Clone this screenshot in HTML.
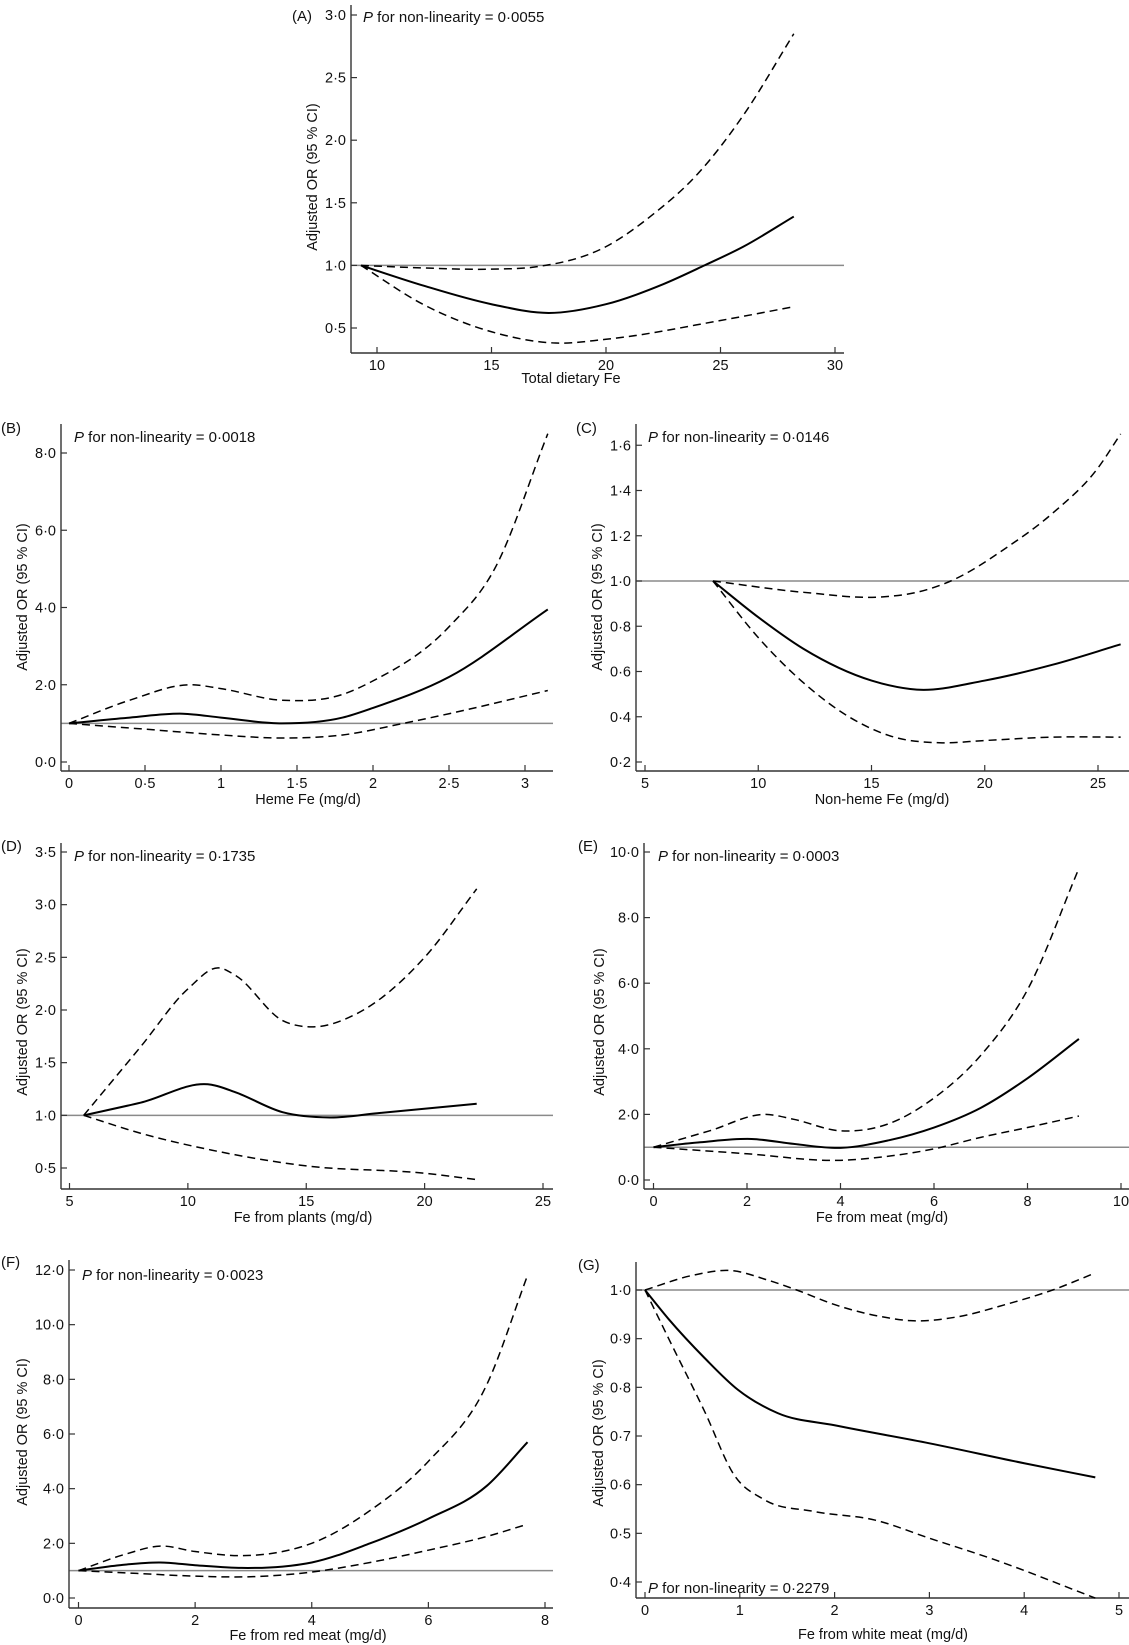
<!DOCTYPE html>
<html><head><meta charset="utf-8"><style>
html,body{margin:0;padding:0;background:#fff;}
svg{display:block;font-family:"Liberation Sans",Arial,sans-serif;}
</style></head><body>
<svg id="fig" width="1129" height="1645" viewBox="0 0 1129 1645" xmlns="http://www.w3.org/2000/svg"></svg>
<script>
// ---------- Panel A: Total dietary Fe ----------
const aX = [9.3, 12, 15, 17.5, 20, 22.5, 24.3, 26, 28.2];
const aFit = [1.0, 0.84, 0.69, 0.62, 0.69, 0.85, 1.0, 1.15, 1.39];
const aUpX = [9.3, 12, 15, 17, 20, 22, 24, 26, 28.2];
const aUp = [1.0, 0.98, 0.97, 0.99, 1.15, 1.4, 1.73, 2.2, 2.85];
const aLoX = [9.3, 12, 15, 17.8, 20, 25, 28.2];
const aLo = [1.0, 0.69, 0.47, 0.38, 0.41, 0.56, 0.67];
const aXTicks = [10, 15, 20, 25, 30];
const aYTicks = [0.5, 1.0, 1.5, 2.0, 2.5, 3.0];
const aYLabels = ["0·5","1·0","1·5","2·0","2·5","3·0"];
// ---------- Panel B: Heme Fe ----------
const bX = [0, 0.4, 0.75, 1.0, 1.4, 1.8, 2.0, 2.5, 3.15];
const bFit = [1.0, 1.15, 1.25, 1.15, 1.0, 1.15, 1.4, 2.2, 3.95];
const bUpX = [0, 0.4, 0.8, 1.0, 1.4, 1.8, 2.0, 2.5, 2.8, 3.15];
const bUp = [1.0, 1.6, 2.0, 1.9, 1.6, 1.75, 2.1, 3.5, 5.0, 8.5];
const bLoX = [0, 0.5, 1.0, 1.4, 1.8, 2.2, 2.5, 3.15];
const bLo = [1.0, 0.85, 0.7, 0.62, 0.7, 1.0, 1.25, 1.85];
const bXTicks = [0, 0.5, 1, 1.5, 2, 2.5, 3];
const bXLabels = ["0","0·5","1","1·5","2","2·5","3"];
const bYTicks = [0, 2, 4, 6, 8];
const bYLabels = ["0·0","2·0","4·0","6·0","8·0"];
// ---------- Panel C: Non-heme Fe ----------
const cX = [8, 10, 12, 15, 17, 20, 23, 26];
const cFit = [1.0, 0.84, 0.70, 0.56, 0.52, 0.56, 0.63, 0.72];
const cUpX = [8, 12, 15.5, 17, 18.5, 21, 23, 25, 26];
const cUp = [1.0, 0.95, 0.93, 0.95, 1.0, 1.15, 1.3, 1.5, 1.65];
const cLoX = [8, 10, 12, 14, 16, 18, 20, 23, 26];
const cLo = [1.0, 0.75, 0.55, 0.40, 0.31, 0.285, 0.295, 0.31, 0.31];
const cXTicks = [5, 10, 15, 20, 25];
const cYTicks = [0.2, 0.4, 0.6, 0.8, 1.0, 1.2, 1.4, 1.6];
const cYLabels = ["0·2","0·4","0·6","0·8","1·0","1·2","1·4","1·6"];
// ---------- Panel D: Fe from plants ----------
const dX = [5.6, 8, 11, 12, 14, 16, 18, 22.2];
const dFit = [1.0, 1.12, 1.29, 1.22, 1.03, 0.98, 1.02, 1.11];
const dUpX = [5.6, 8, 10, 11.3, 12, 14, 15.3, 17, 20, 22.2];
const dUp = [1.0, 1.65, 2.2, 2.4, 2.33, 1.9, 1.84, 1.95, 2.5, 3.15];
const dLoX = [5.6, 8, 11, 15, 20, 22.2];
const dLo = [1.0, 0.83, 0.67, 0.52, 0.45, 0.39];
const dXTicks = [5, 10, 15, 20, 25];
const dYTicks = [0.5, 1.0, 1.5, 2.0, 2.5, 3.0, 3.5];
const dYLabels = ["0·5","1·0","1·5","2·0","2·5","3·0","3·5"];
// ---------- Panel E: Fe from meat ----------
const eX = [0, 1, 2.1, 3, 4, 5, 6, 7, 8, 9.1];
const eFit = [1.0, 1.15, 1.25, 1.1, 0.98, 1.2, 1.6, 2.2, 3.1, 4.3];
const eUpX = [0, 1.2, 2.4, 3, 4, 5, 6, 7, 8, 9.1];
const eUp = [1.0, 1.5, 2.0, 1.85, 1.5, 1.7, 2.5, 3.8, 5.8, 9.5];
const eLoX = [0, 2, 4, 5, 6, 7, 8, 9.1];
const eLo = [1.0, 0.8, 0.6, 0.72, 0.95, 1.3, 1.6, 1.95];
const eXTicks = [0, 2, 4, 6, 8, 10];
const eYTicks = [0, 2, 4, 6, 8, 10];
const eYLabels = ["0·0","2·0","4·0","6·0","8·0","10·0"];
// ---------- Panel F: Fe from red meat ----------
const fX = [0, 0.7, 1.4, 2.0, 2.8, 3.5, 4, 5, 6, 7, 7.7];
const fFit = [1.0, 1.2, 1.3, 1.2, 1.1, 1.15, 1.3, 2.0, 2.9, 4.1, 5.7];
const fUpX = [0, 0.8, 1.4, 2.0, 2.8, 3.5, 4, 5, 6, 7, 7.7];
const fUp = [1.0, 1.6, 1.9, 1.7, 1.55, 1.7, 2.0, 3.2, 5.0, 7.8, 11.8];
const fLoX = [0, 1, 2, 3, 4, 5, 6, 7, 7.7];
const fLo = [1.0, 0.9, 0.8, 0.78, 0.95, 1.3, 1.75, 2.25, 2.7];
const fXTicks = [0, 2, 4, 6, 8];
const fYTicks = [0, 2, 4, 6, 8, 10, 12];
const fYLabels = ["0·0","2·0","4·0","6·0","8·0","10·0","12·0"];
// ---------- Panel G: Fe from white meat ----------
const gX = [0, 0.25, 0.63, 0.98, 1.4, 2.0, 3.0, 4.0, 4.75];
const gFit = [1.0, 0.94, 0.86, 0.795, 0.747, 0.722, 0.685, 0.644, 0.615];
const gUpX = [0, 0.5, 0.9, 1.3, 1.6, 2.0, 2.5, 2.8, 3.3, 3.8, 4.3, 4.75];
const gUp = [1.0, 1.03, 1.04, 1.02, 1.0, 0.97, 0.945, 0.937, 0.945, 0.97, 1.0, 1.035];
const gLoX = [0, 0.25, 0.63, 0.94, 1.25, 1.78, 2.43, 3.0, 3.7, 4.75];
const gLo = [1.0, 0.9, 0.75, 0.62, 0.57, 0.545, 0.527, 0.49, 0.445, 0.367];
const gXTicks = [0, 1, 2, 3, 4, 5];
const gYTicks = [0.4, 0.5, 0.6, 0.7, 0.8, 0.9, 1.0];
const gYLabels = ["0·4","0·5","0·6","0·7","0·8","0·9","1·0"];

const NS = "http://www.w3.org/2000/svg";
const svg = document.getElementById("fig");
function mk(tag, attrs, parent){ const e=document.createElementNS(NS,tag); for(const k in attrs) e.setAttribute(k,attrs[k]); (parent||svg).appendChild(e); return e; }
function smooth(pts){
  const n=pts.length, m=[];
  for(let i=0;i<n;i++){
    if(i===0) m.push((pts[1][1]-pts[0][1])/(pts[1][0]-pts[0][0]));
    else if(i===n-1) m.push((pts[n-1][1]-pts[n-2][1])/(pts[n-1][0]-pts[n-2][0]));
    else {
      const s0=(pts[i][1]-pts[i-1][1])/(pts[i][0]-pts[i-1][0]);
      const s1=(pts[i+1][1]-pts[i][1])/(pts[i+1][0]-pts[i][0]);
      const h0=pts[i][0]-pts[i-1][0], h1=pts[i+1][0]-pts[i][0];
      m.push((s0*h1+s1*h0)/(h0+h1));
    }
  }
  let d="M"+pts[0][0].toFixed(2)+","+pts[0][1].toFixed(2);
  for(let i=0;i<n-1;i++){
    const h=(pts[i+1][0]-pts[i][0])/3;
    d+=" C"+(pts[i][0]+h).toFixed(2)+","+(pts[i][1]+m[i]*h).toFixed(2)+" "+(pts[i+1][0]-h).toFixed(2)+","+(pts[i+1][1]-m[i+1]*h).toFixed(2)+" "+pts[i+1][0].toFixed(2)+","+pts[i+1][1].toFixed(2);
  }
  return d;
}
function panel(cfg){
  const g=mk("g",{});
  
  
  const sx=v=>cfg.xp0+(v-cfg.xv0)*(cfg.xp1-cfg.xp0)/(cfg.xv1-cfg.xv0);
  const sy=v=>cfg.yp0+(v-cfg.yv0)*(cfg.yp1-cfg.yp0)/(cfg.yv1-cfg.yv0);
  const ref=mk("line",{x1:cfg.ax,x2:cfg.right,y1:sy(1),y2:sy(1),stroke:"#8a8a8a","stroke-width":1.5},g);
  
  
  const ya=mk("line",{x1:cfg.ax,x2:cfg.ax,y1:cfg.top,y2:cfg.ay,stroke:"#333","stroke-width":1.4},g);
  
  
  const xa=mk("line",{x1:cfg.ax,x2:cfg.right,y1:cfg.ay,y2:cfg.ay,stroke:"#333","stroke-width":1.4},g);
  
  
  cfg.xt.forEach((v,i)=>{
    const x=sx(v);
    const t=mk("line",{x1:x,x2:x,y1:cfg.ay,y2:cfg.ay-6,stroke:"#333","stroke-width":1.2},g);
    
    
    const tx=mk("text",{x:x,y:cfg.ay+17,"font-size":14.5,"text-anchor":"middle",fill:"#111"},g);
    tx.textContent=cfg.xl?cfg.xl[i]:String(v);
    
    
  });
  cfg.yt.forEach((v,i)=>{
    const y=sy(v);
    const t=mk("line",{x1:cfg.ax,x2:cfg.ax+6,y1:y,y2:y,stroke:"#333","stroke-width":1.2},g);
    
    
    const tx=mk("text",{x:cfg.ax-5,y:y+5,"font-size":14.5,"text-anchor":"end",fill:"#111"},g);
    tx.textContent=cfg.yl[i];
    
    
  });
  const series=[[cfg.upX,cfg.up,"upper-ci",true],[cfg.loX,cfg.lo,"lower-ci",true],[cfg.x,cfg.fit,"fitted-or",false]];
  series.forEach(s=>{
    const pts=s[0].map((v,i)=>[sx(v),sy(s[1][i])]);
    const p=mk("path",{d:smooth(pts),fill:"none",stroke:"#000","stroke-width":s[3]?1.5:2,"stroke-dasharray":s[3]?"8 5":"none"},g);
    
    
  });
  const lab=mk("text",{x:cfg.lx,y:cfg.ly,"font-size":15,fill:"#111"},g);
  lab.textContent="("+cfg.id.toUpperCase()+")";
  
  
  const pt=mk("text",{x:cfg.px,y:cfg.py,"font-size":15,fill:"#111"},g);
  const ip=mk("tspan",{"font-style":"italic"},pt); ip.textContent="P";
  const rest=mk("tspan",{},pt); rest.textContent=" for non-linearity = "+cfg.p;
  
  
  const xt=mk("text",{x:cfg.xlx,y:cfg.xly,"font-size":14.5,"text-anchor":"middle",fill:"#111"},g);
  xt.textContent=cfg.xtitle;
  
  
  const yt=mk("text",{x:0,y:0,"font-size":14.5,"text-anchor":"middle",fill:"#111",transform:"translate("+(cfg.ylx+5)+","+cfg.yly+") rotate(-90)"},g);
  yt.textContent="Adjusted OR (95 % CI)";
  
  
}
panel({id:"a",ax:351,ay:353,top:5,right:844,xv0:10,xp0:377,xv1:30,xp1:835,yv0:0.5,yp0:328,yv1:3.0,yp1:15,
  x:aX,fit:aFit,upX:aUpX,up:aUp,loX:aLoX,lo:aLo,xt:aXTicks,yt:aYTicks,yl:aYLabels,
  lx:292,ly:21,px:363,py:22,p:"0·0055",xtitle:"Total dietary Fe",xlx:571,xly:383,ylx:312,yly:177});
panel({id:"b",ax:61,ay:771,top:424,right:553,xv0:0,xp0:69,xv1:3,xp1:525,yv0:0,yp0:762,yv1:8,yp1:453,
  x:bX,fit:bFit,upX:bUpX,up:bUp,loX:bLoX,lo:bLo,xt:bXTicks,xl:bXLabels,yt:bYTicks,yl:bYLabels,
  lx:1,ly:433,px:74,py:442,p:"0·0018",xtitle:"Heme Fe (mg/d)",xlx:308,xly:804,ylx:22,yly:597});
panel({id:"c",ax:636,ay:771,top:424,right:1129,xv0:5,xp0:645,xv1:25,xp1:1098,yv0:0.2,yp0:762,yv1:1.0,yp1:581,
  x:cX,fit:cFit,upX:cUpX,up:cUp,loX:cLoX,lo:cLo,xt:cXTicks,yt:cYTicks,yl:cYLabels,
  lx:576,ly:433,px:648,py:442,p:"0·0146",xtitle:"Non-heme Fe (mg/d)",xlx:882,xly:804,ylx:597,yly:597});
panel({id:"d",ax:61,ay:1189,top:843,right:553,xv0:5,xp0:69.5,xv1:25,xp1:543,yv0:0.5,yp0:1168,yv1:3.5,yp1:852,
  x:dX,fit:dFit,upX:dUpX,up:dUp,loX:dLoX,lo:dLo,xt:dXTicks,yt:dYTicks,yl:dYLabels,
  lx:1,ly:851,px:74,py:861,p:"0·1735",xtitle:"Fe from plants (mg/d)",xlx:303,xly:1222,ylx:22,yly:1022});
panel({id:"e",ax:644,ay:1189,top:843,right:1129,xv0:0,xp0:653.5,xv1:10,xp1:1121,yv0:0,yp0:1180,yv1:10,yp1:852,
  x:eX,fit:eFit,upX:eUpX,up:eUp,loX:eLoX,lo:eLo,xt:eXTicks,yt:eYTicks,yl:eYLabels,
  lx:578,ly:851,px:658,py:861,p:"0·0003",xtitle:"Fe from meat (mg/d)",xlx:882,xly:1222,ylx:599,yly:1022});
panel({id:"f",ax:69,ay:1608,top:1260,right:553,xv0:0,xp0:78.5,xv1:8,xp1:545,yv0:0,yp0:1598,yv1:12,yp1:1270,
  x:fX,fit:fFit,upX:fUpX,up:fUp,loX:fLoX,lo:fLo,xt:fXTicks,yt:fYTicks,yl:fYLabels,
  lx:1,ly:1267,px:82,py:1280,p:"0·0023",xtitle:"Fe from red meat (mg/d)",xlx:308,xly:1640,ylx:22,yly:1432});
panel({id:"g",ax:636,ay:1598,top:1262,right:1129,xv0:0,xp0:645,xv1:5,xp1:1119,yv0:0.4,yp0:1582,yv1:1.0,yp1:1290,
  x:gX,fit:gFit,upX:gUpX,up:gUp,loX:gLoX,lo:gLo,xt:gXTicks,yt:gYTicks,yl:gYLabels,
  lx:578,ly:1270,px:648,py:1593,p:"0·2279",xtitle:"Fe from white meat (mg/d)",xlx:883,xly:1639,ylx:598,yly:1433});
</script>
</body></html>
